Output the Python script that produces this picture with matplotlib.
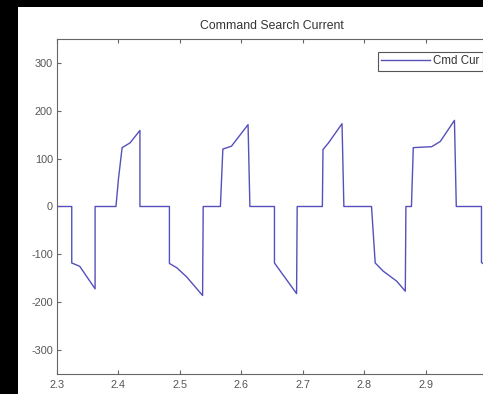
import matplotlib
matplotlib.use("Agg")
import matplotlib.pyplot as plt
from matplotlib.patches import Rectangle

plt.rcParams["axes.unicode_minus"] = False

# Data (time, current)
t = [2.300, 2.324, 2.324, 2.337, 2.362, 2.362, 2.396, 2.400, 2.406, 2.419, 2.435, 2.435,
     2.483, 2.483, 2.495, 2.511, 2.537, 2.538, 2.566, 2.570, 2.584, 2.611, 2.614,
     2.654, 2.654, 2.690, 2.691, 2.732, 2.733, 2.742, 2.764, 2.767,
     2.812, 2.818, 2.831, 2.853, 2.867, 2.868, 2.877, 2.880, 2.910, 2.924, 2.947, 2.950,
     2.991, 2.991, 3.000]
cur = [0, 0, -118, -125, -172, 0, 0, 57, 123, 133, 159, 0,
       0, -119, -128, -147, -186, 0, 0, 120, 126, 171, 0,
       0, -118, -182, 0, 0, 119, 133, 173, 0,
       0, -118, -135, -156, -177, 0, 0, 123, 125, 136, 180, 0,
       0, -117, -125]

title = "Command Search Current"
legend_label = "Cmd Cur"
xticks = [2.3, 2.4, 2.5, 2.6, 2.7, 2.8, 2.9, 3.0]
xticklabels = ["2.3", "2.4", "2.5", "2.6", "2.7", "2.8", "2.9", ""]
yticks = [-300, -200, -100, 0, 100, 200, 300]

W, H = 483, 394
fig = plt.figure(figsize=(W / 100, H / 100), dpi=100, facecolor="black")
fig.patches.append(Rectangle((18 / W, 0), 1, (H - 7) / H, transform=fig.transFigure,
                             facecolor="white", edgecolor="none", zorder=-1))

left, right, top, bottom = 57, 487, 39, 374
ax = fig.add_axes([left / W, (H - bottom) / H, (right - left) / W, (bottom - top) / H])
ax.set_facecolor("white")
ax.plot(t, cur, color="#5550bb", lw=1.0, label=legend_label)
ax.set_xlim(2.3, 3.0)
ax.set_ylim(-350, 350)
ax.set_xticks(xticks)
ax.set_xticklabels(xticklabels)
ax.set_yticks(yticks)
for s in ax.spines.values():
    s.set_color("#666666")
    s.set_linewidth(0.8)
ax.tick_params(direction="in", length=3, width=0.8, color="#666666", top=True, right=True,
               labelsize=7.8, labelcolor="#555555", pad=3)
ax.tick_params(axis="x", pad=4.5)
for lab in ax.get_xticklabels() + ax.get_yticklabels():
    lab.set_fontfamily("Liberation Sans")
ax.set_title(title, fontsize=8.8, color="#333333", family="Liberation Sans", pad=7)

leg = ax.legend(loc="upper right", bbox_to_anchor=(483 / W, (H - 52) / H),
                bbox_transform=fig.transFigure, borderaxespad=0, fancybox=False,
                edgecolor="#555555", framealpha=1, handlelength=4.2, handletextpad=0.3,
                borderpad=0.3, prop={"family": "Liberation Sans", "size": 8.3})
leg.get_frame().set_linewidth(0.8)
for txt in leg.get_texts():
    txt.set_color("#333333")

fig.savefig("out.png", dpi=100, facecolor=fig.get_facecolor())
